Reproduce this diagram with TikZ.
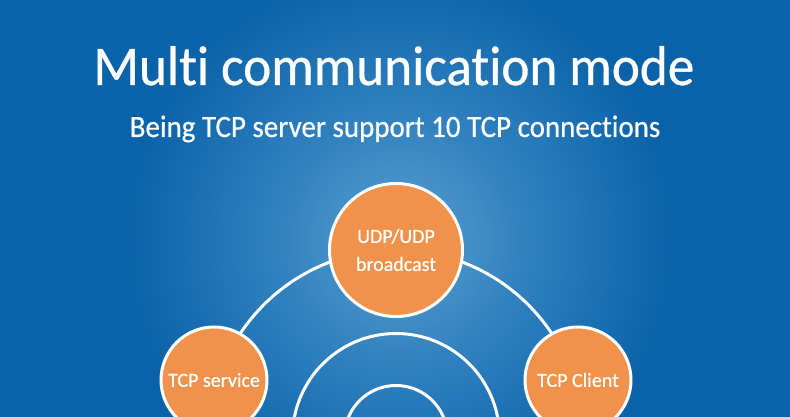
\documentclass[tikz,border=0pt]{standalone}
\usepackage{fontspec}
\setmainfont[Ligatures=NoCommon, FakeBold=0.6]{Carlito}
\definecolor{bgdark}{HTML}{0A62A8}
\definecolor{bgmid}{HTML}{3282C0}
\definecolor{bglight}{HTML}{5A9FD0}
\definecolor{orangefill}{HTML}{F0924B}
\pgfdeclareradialshading{glow}{\pgfpoint{0bp}{0bp}}{color(0bp)=(bglight); color(10bp)=(bgmid); color(23bp)=(bgdark); color(25bp)=(bgdark); color(50bp)=(bgdark)}
\tikzset{
  ring/.style={draw=white, line width=3pt},
  bubble/.style={circle, fill=orangefill, draw=white, line width=3pt, text=white, inner sep=0pt, align=center, font=\fontsize{20}{28}\selectfont},
  titletext/.style={text=white, inner sep=0pt, anchor=base},
}
\newfontfamily\titlefont[Ligatures=NoCommon, FakeBold=0.6, FakeStretch=0.95]{Carlito}
\newfontfamily\subfont[Ligatures=NoCommon, FakeBold=0.6, FakeStretch=0.935]{Carlito}
\begin{document}
\begin{tikzpicture}[x=1pt,y=-1pt]
\useasboundingbox (0,0) rectangle (790,417);
\begin{scope}
\clip (0,0) rectangle (790,417);
\fill[bgdark] (0,0) rectangle (790,417);
\shade[shading=glow] (400,240) circle (300pt);
\coordinate (hub) at (396,437);
\draw[ring] (hub) circle (187pt);
\draw[ring] (hub) circle (103.5pt);
\draw[ring] (hub) circle (51.5pt);
\node[bubble, minimum size=133pt] (udp) at (396,250) {UDP/UDP\\broadcast};
\node[bubble, minimum size=106pt] (svc) at (214,380) {TCP service};
\node[bubble, minimum size=106pt] (cli) at (578,380) {TCP Client};
\end{scope}
\node[titletext, font=\titlefont\fontsize{56}{60}\selectfont] (title) at (394,85) {Multi communication mode};
\node[titletext, font=\subfont\fontsize{31}{34}\selectfont] (sub) at (395,137) {Being TCP server support 10 TCP connections};
\end{tikzpicture}
\end{document}
